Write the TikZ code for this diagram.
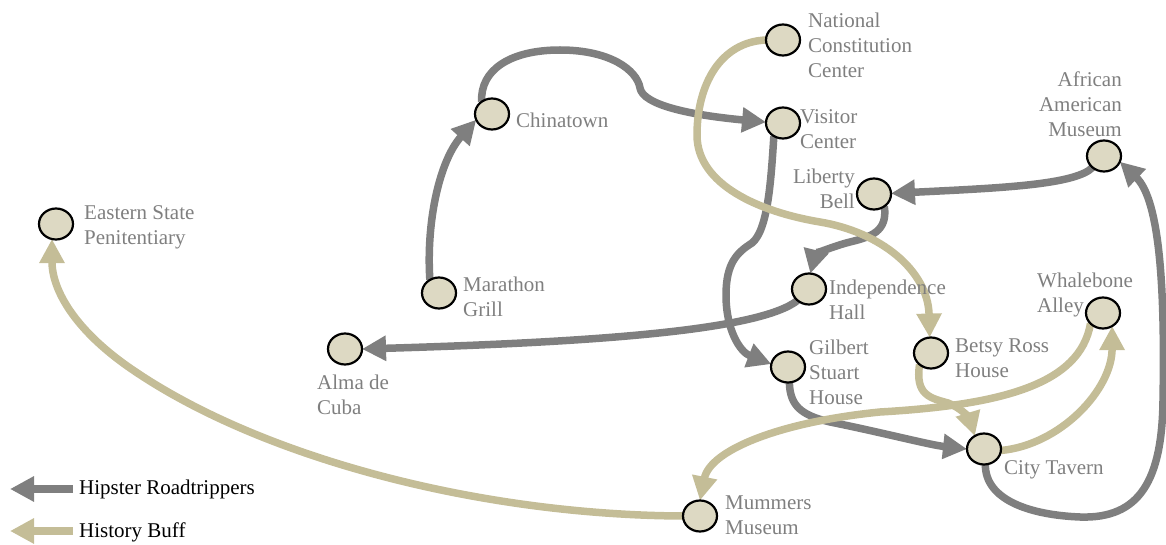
\documentclass[tikz,border=0pt]{standalone}
\usepackage{fontspec}
\setmainfont{Liberation Serif}
\usetikzlibrary{arrows.meta,shapes.geometric,backgrounds}
\definecolor{edgegray}{HTML}{7F7F7F}
\definecolor{edgetan}{HTML}{C4BD97}
\definecolor{spotfill}{HTML}{DDD9C3}
\definecolor{labelgray}{HTML}{7F7F7F}
\begin{document}
\begin{tikzpicture}[x=1pt,y=-1pt,
 spot/.style={ellipse,draw=black,line width=2.2pt,fill=spotfill,minimum width=34pt,minimum height=31pt,inner sep=0pt,outer sep=0pt},
 lbl/.style={inner sep=0pt,text=labelgray,font=\fontsize{21}{25}\selectfont,align=left,anchor=north west},
 rlbl/.style={lbl,align=right,anchor=north east},
 hip/.style={draw=edgegray,line width=7.5pt,-{Triangle[length=24pt,width=24pt]}},
 buff/.style={draw=edgetan,line width=7.5pt,-{Triangle[length=24pt,width=24pt]}},
 leg/.style={inner sep=0pt,font=\fontsize{21}{25}\selectfont,anchor=west}]
\useasboundingbox (0,0) rectangle (1166,545);

% spots
\node[spot] (ncc) at (783,40) {};
\node[spot] (ct) at (492,114) {};
\node[spot] (vc) at (783,123) {};
\node[spot] (aam) at (1104,156) {};
\node[spot] (lb) at (874,194) {};
\node[spot] (esp) at (56,224) {};
\node[spot] (mg) at (439,293) {};
\node[spot] (ih) at (809,289) {};
\node[spot] (wa) at (1103,313) {};
\node[spot] (alma) at (345,349) {};
\node[spot] (br) at (931,353) {};
\node[spot] (gs) at (788,367) {};
\node[spot] (ctav) at (984,449) {};
\node[spot] (mm) at (700,516) {};

% labels
\node[lbl] (nccl) at (808,13) {National\\Constitution\\Center};
\node[lbl] (ctl) at (516,113) {Chinatown};
\node[lbl] (vcl) at (800,109) {Visitor\\Center};
\node[rlbl] (aaml) at (1122,72) {African\\American\\Museum};
\node[rlbl] (lbl) at (855,169) {Liberty\\Bell};
\node[lbl] (espl) at (84,205) {Eastern State\\Penitentiary};
\node[lbl] (mgl) at (463,277) {Marathon\\Grill};
\node[lbl] (ihl) at (829,280) {Independence\\Hall};
\node[lbl] (wal) at (1037,273) {Whalebone\\Alley};
\node[lbl] (almal) at (317,375) {Alma de\\Cuba};
\node[lbl] (brl) at (955,339) {Betsy Ross\\House};
\node[lbl] (gsl) at (809,340) {Gilbert\\Stuart\\House};
\node[lbl] (ctavl) at (1004,460) {City Tavern};
\node[lbl] (mml) at (725,496) {Mummers\\Museum};

\begin{pgfonlayer}{background}
% Hipster Roadtrippers
\draw[hip] (mg.125) .. controls (426,220) and (440,160) .. (ct.200);
\draw[hip] (ct.130) .. controls (480,70) and (510,50) .. (560,50)
  .. controls (610,50) and (637,70) .. (640,88)
  .. controls (643,105) and (690,115) .. (vc.177);
\draw[hip] (vc.235) .. controls (771,180) and (768,230) .. (752,243)
  .. controls (738,252) and (726,262) .. (726,295)
  .. controls (726,330) and (740,352) .. (gs.170);
\draw[hip] (aam.225) .. controls (1075,185) and (1000,188) .. (lb.2);
\draw[hip] (lb.-50) .. controls (888,232) and (870,237) .. (850,242)
  .. controls (830,247) and (815,255) .. (ih.85);
\draw[hip] (ih.225) .. controls (760,330) and (600,342) .. (alma.0);
\draw[hip] (gs.-85) .. controls (790,405) and (800,415) .. (830,422)
  .. controls (880,432) and (930,445) .. (ctav.180);
\draw[hip] (ctav.-85) .. controls (985,500) and (1030,515) .. (1080,517)
  .. controls (1140,519) and (1162,480) .. (1163,400)
  .. controls (1165,290) and (1160,200) .. (aam.-20);
% History Buff
\draw[buff] (ncc.180) .. controls (720,42) and (697,85) .. (697,135)
  .. controls (697,185) and (760,212) .. (820,222)
  .. controls (880,232) and (928,270) .. (br.95);
\draw[buff] (br.225) .. controls (915,395) and (930,398) .. (948,403)
  .. controls (962,408) and (970,420) .. (ctav.125);
\draw[buff] (ctav.-5) .. controls (1060,445) and (1112,390) .. (wa.-55);
\draw[buff] (wa.220) .. controls (1080,385) and (1000,405) .. (880,412)
  .. controls (780,422) and (710,450) .. (mm.90);
\draw[buff] (mm.180) .. controls (480,515) and (260,458) .. (130,368)
  .. controls (75,330) and (52,290) .. (esp.255);
\end{pgfonlayer}

% legend
\coordinate (hipA) at (73,489);
\coordinate (hipB) at (10,489);
\coordinate (bufA) at (73,531);
\coordinate (bufB) at (10,531);
\draw[hip] (hipA) -- (hipB);
\draw[buff] (bufA) -- (bufB);
\node[leg] (hipl) at (79,489) {Hipster Roadtrippers};
\node[leg] (bufl) at (79,532) {History Buff};
\end{tikzpicture}
\end{document}
